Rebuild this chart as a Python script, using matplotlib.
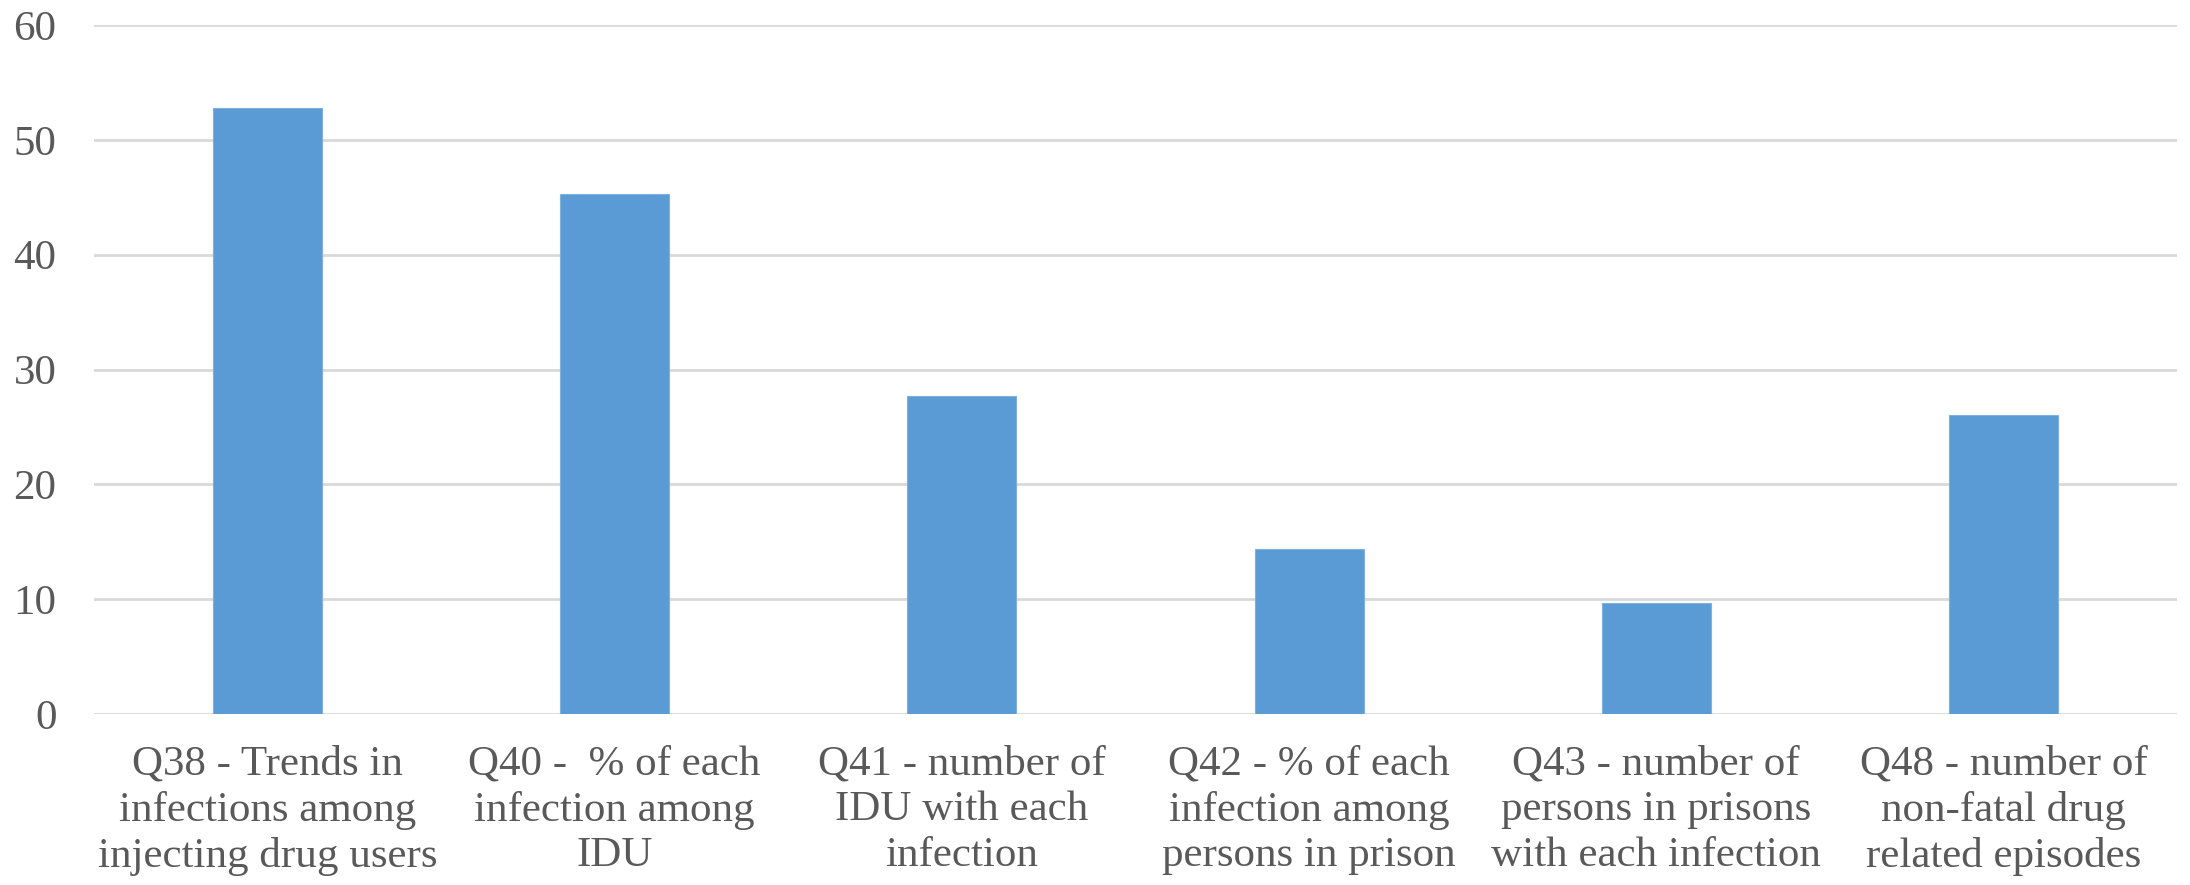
import matplotlib.pyplot as plt
import numpy as np

categories = [
    "Q38 - Trends in\ninfections among\ninjecting drug users",
    "Q40 -  % of each\ninfection among\nIDU",
    "Q41 - number of\nIDU with each\ninfection",
    "Q42 - % of each\ninfection among\npersons in prison",
    "Q43 - number of\npersons in prisons\nwith each infection",
    "Q48 - number of\nnon-fatal drug\nrelated episodes",
]
values = [52.8, 45.3, 27.65, 14.35, 9.65, 26.0]
yticks = [0, 10, 20, 30, 40, 50, 60]

plt.rcParams['font.family'] = ['Liberation Serif', 'DejaVu Serif']
text_color = '#595959'

fig = plt.figure(figsize=(21.9, 8.85), dpi=100)
ax = fig.add_axes([94 / 2190, 1 - 714 / 885, (2177 - 94) / 2190, (714 - 25) / 885])

x = np.arange(len(categories))
ax.bar(x, values, width=0.314, color='#5B9BD5', edgecolor='#7FB0DE', linewidth=0.8, zorder=3)

ax.set_xlim(-0.5, len(categories) - 0.5)
ax.set_ylim(0, 60)
ax.set_yticks(yticks)
ax.set_xticks(x)
ax.set_xticklabels(categories, fontsize=31, color=text_color, linespacing=1.25)
ax.tick_params(axis='y', labelsize=31, labelcolor=text_color, length=0, pad=27)
ax.tick_params(axis='x', length=0, pad=22)
ax.grid(axis='y', color='#D9D9D9', linewidth=2, zorder=0)
for s in ax.spines.values():
    s.set_visible(False)

plt.savefig('out.png', dpi=100)
